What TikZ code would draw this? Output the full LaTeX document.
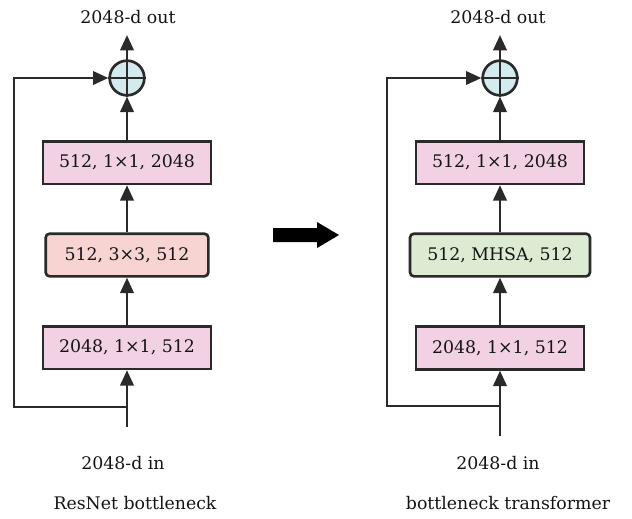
\documentclass[tikz,border=0pt]{standalone}
\usepackage{fontspec}
\setmainfont{DejaVu Serif}
\usetikzlibrary{arrows.meta}
\definecolor{lnc}{HTML}{2A2A2A}
\definecolor{pinkc}{HTML}{F2D1E5}
\definecolor{salmc}{HTML}{F7D4D2}
\definecolor{greenc}{HTML}{DDEBD3}
\definecolor{sumc}{HTML}{D3EAEE}
\begin{document}
\begin{tikzpicture}[x=0.75pt,y=-0.75pt,
  every node/.style={font=\fontsize{13}{15}\selectfont, text=black!92},
  blk/.style={draw=lnc, line width=2pt, minimum height=32pt, inner sep=0pt},
  sq/.style={blk, fill=pinkc, minimum width=126pt},
  rnd/.style={blk, rounded corners=3pt},
  sumnode/.style={draw=lnc, line width=2pt, circle, fill=sumc, minimum size=26pt, inner sep=0pt},
  conn/.style={draw=lnc, line width=2pt, -{Triangle[length=11.5pt,width=10pt]}},
  plain/.style={draw=lnc, line width=2pt},
  lbl/.style={inner sep=0pt}
]
\useasboundingbox (0,0) rectangle (632,518);

% ---------- left: ResNet bottleneck ----------
\node[lbl] (lout) at (128,17) {2048-d out};
\node[sumnode] (lsum) at (127,78) {};
\draw[plain] (lsum.north) -- (lsum.south) (lsum.west) -- (lsum.east);
\node[sq] (lb1) at (127,162.5) {512, 1×1, 2048};
\node[rnd, fill=salmc, minimum width=122pt] (lb2) at (127,255) {512, 3×3, 512};
\node[sq] (lb3) at (127,347.5) {2048, 1×1, 512};
\coordinate (lbot) at (127,427);
\coordinate (ljn) at (127,407);
\coordinate (lsk1) at (14,407);
\coordinate (lsk2) at (14,78);
\node[lbl] (lin) at (123,463) {2048-d in};
\node[lbl] (lcap) at (135,503) {ResNet bottleneck};

\draw[conn] (lsum.north) -- (lsum.north |- 0,35);
\draw[conn] (lb1.north) -- (lsum.south);
\draw[conn] (lb2.north) -- (lb1.south);
\draw[conn] (lb3.north) -- (lb2.south);
\draw[conn] (lbot) -- (lb3.south);
\draw[conn] (ljn) -- (lsk1) -- (lsk2) -- (lsum.west);

% ---------- big arrow ----------
\fill[black] (273,228) -- (317,228) -- (317,222) -- (339,235) -- (317,248) -- (317,242) -- (273,242) -- cycle;

% ---------- right: bottleneck transformer ----------
\node[lbl] (rout) at (498,17) {2048-d out};
\node[sumnode] (rsum) at (500,78) {};
\draw[plain] (rsum.north) -- (rsum.south) (rsum.west) -- (rsum.east);
\node[sq] (rb1) at (500,162.5) {512, 1×1, 2048};
\node[rnd, fill=greenc, minimum width=135pt] (rb2) at (500,255) {512, MHSA, 512};
\node[sq] (rb3) at (500,348) {2048, 1×1, 512};
\coordinate (rbot) at (500,436);
\coordinate (rjn) at (500,406);
\coordinate (rsk1) at (387,406);
\coordinate (rsk2) at (387,78);
\node[lbl] (rin) at (498,463) {2048-d in};
\node[lbl] (rcap) at (508,503) {bottleneck transformer};

\draw[conn] (rsum.north) -- (rsum.north |- 0,35);
\draw[conn] (rb1.north) -- (rsum.south);
\draw[conn] (rb2.north) -- (rb1.south);
\draw[conn] (rb3.north) -- (rb2.south);
\draw[conn] (rbot) -- (rb3.south);
\draw[conn] (rjn) -- (rsk1) -- (rsk2) -- (rsum.west);
\end{tikzpicture}
\end{document}
